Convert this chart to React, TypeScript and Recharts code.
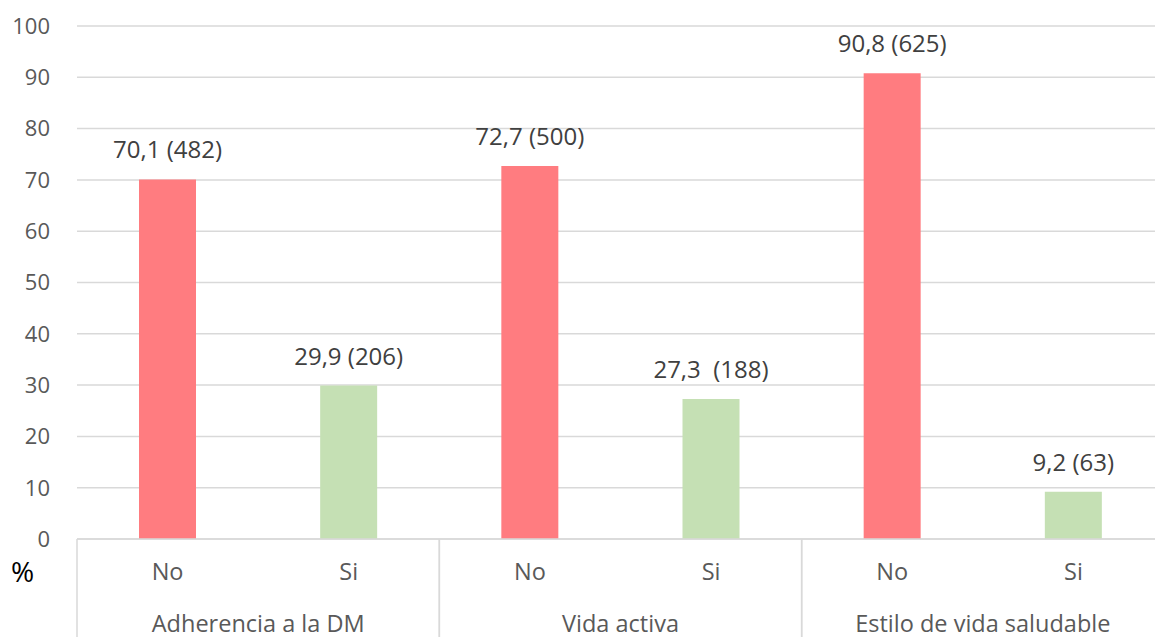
import { BarChart, Bar, XAxis, YAxis, CartesianGrid, Cell, LabelList, Label } from "recharts";

const subCategories = ["No", "Si", "No", "Si", "No", "Si"];
const groupNames = [
  "Adherencia a la DM",
  "Adherencia a la DM",
  "Vida activa",
  "Vida activa",
  "Estilo de vida saludable",
  "Estilo de vida saludable",
];
const percentages = [70.1, 29.9, 72.7, 27.3, 90.8, 9.2];
const counts = [482, 206, 500, 188, 625, 63];
const valueLabels = ["70,1 (482)", "29,9 (206)", "72,7 (500)", "27,3  (188)", "90,8 (625)", "9,2 (63)"];
const yTicks = [0, 10, 20, 30, 40, 50, 60, 70, 80, 90, 100];

const NO_COLOR = "#FF7C80";
const SI_COLOR = "#C5E0B4";
const TEXT = "#595959";
const GRID = "#D9D9D9";
const FONT = 23.5;

const data = subCategories.map((sub, i) => ({
  idx: i,
  sub,
  group: groupNames[i],
  pct: percentages[i],
  n: counts[i],
  label: valueLabels[i],
}));

// two-level category axis: No/Si on the first row, group name below, separators between groups
const CategoryTick = (props: any) => {
  const { x, y, payload, index } = props;
  const d = data[payload.value];
  const half = payload.offset ?? 90;
  const first = index % 2 === 0;
  const sepX = first ? x - half : x + half;
  return (
    <g>
      <text x={x} y={y + 41} textAnchor="middle" fill={TEXT} fontSize={FONT}>
        {d.sub}
      </text>
      {first && (
        <text x={x + half} y={y + 93} textAnchor="middle" fill={TEXT} fontSize={FONT}>
          {d.group}
        </text>
      )}
      <line x1={sepX} x2={sepX} y1={y} y2={y + 100} stroke={GRID} strokeWidth={1.5} />
    </g>
  );
};

const ValueLabel = (props: any) => {
  const { x, y, width, value } = props;
  return (
    <text
      x={x + width / 2}
      y={y - 21}
      textAnchor="middle"
      fill="#404040"
      fontSize={24}
      style={{ whiteSpace: "pre" }}
    >
      {value}
    </text>
  );
};

export default function App() {
  return (
    <div
      style={{
        position: "absolute",
        left: 0,
        top: 0,
        width: 1155,
        height: 637,
        overflow: "hidden",
        background: "#fff",
        fontFamily: "'Open Sans', sans-serif",
      }}
    >
      <BarChart
        width={1170}
        height={637}
        data={data}
        margin={{ top: 26, right: 6, left: 0, bottom: 0 }}
      >
        <CartesianGrid vertical={false} stroke={GRID} strokeWidth={1.5} />
        <XAxis
          dataKey="idx"
          height={98}
          tickLine={false}
          tickSize={0}
          tickMargin={0}
          axisLine={{ stroke: GRID, strokeWidth: 1.5 }}
          tick={<CategoryTick />}
          interval={0}
        >
          <Label
            content={(p: any) => (
              <text x={11} y={p.viewBox.y + 43} fill="#000" fontSize={28}>
                %
              </text>
            )}
          />
        </XAxis>
        <YAxis
          width={77}
          domain={[0, 100]}
          ticks={yTicks}
          axisLine={false}
          tickLine={false}
          tickSize={0}
          tickMargin={27}
          tick={{ fill: TEXT, fontSize: 22 }}
        />
        <Bar dataKey="pct" barSize={57} isAnimationActive={false}>
          {data.map((d) => (
            <Cell key={d.idx} fill={d.sub === "No" ? NO_COLOR : SI_COLOR} />
          ))}
          <LabelList dataKey="label" content={<ValueLabel />} />
        </Bar>
      </BarChart>
    </div>
  );
}
